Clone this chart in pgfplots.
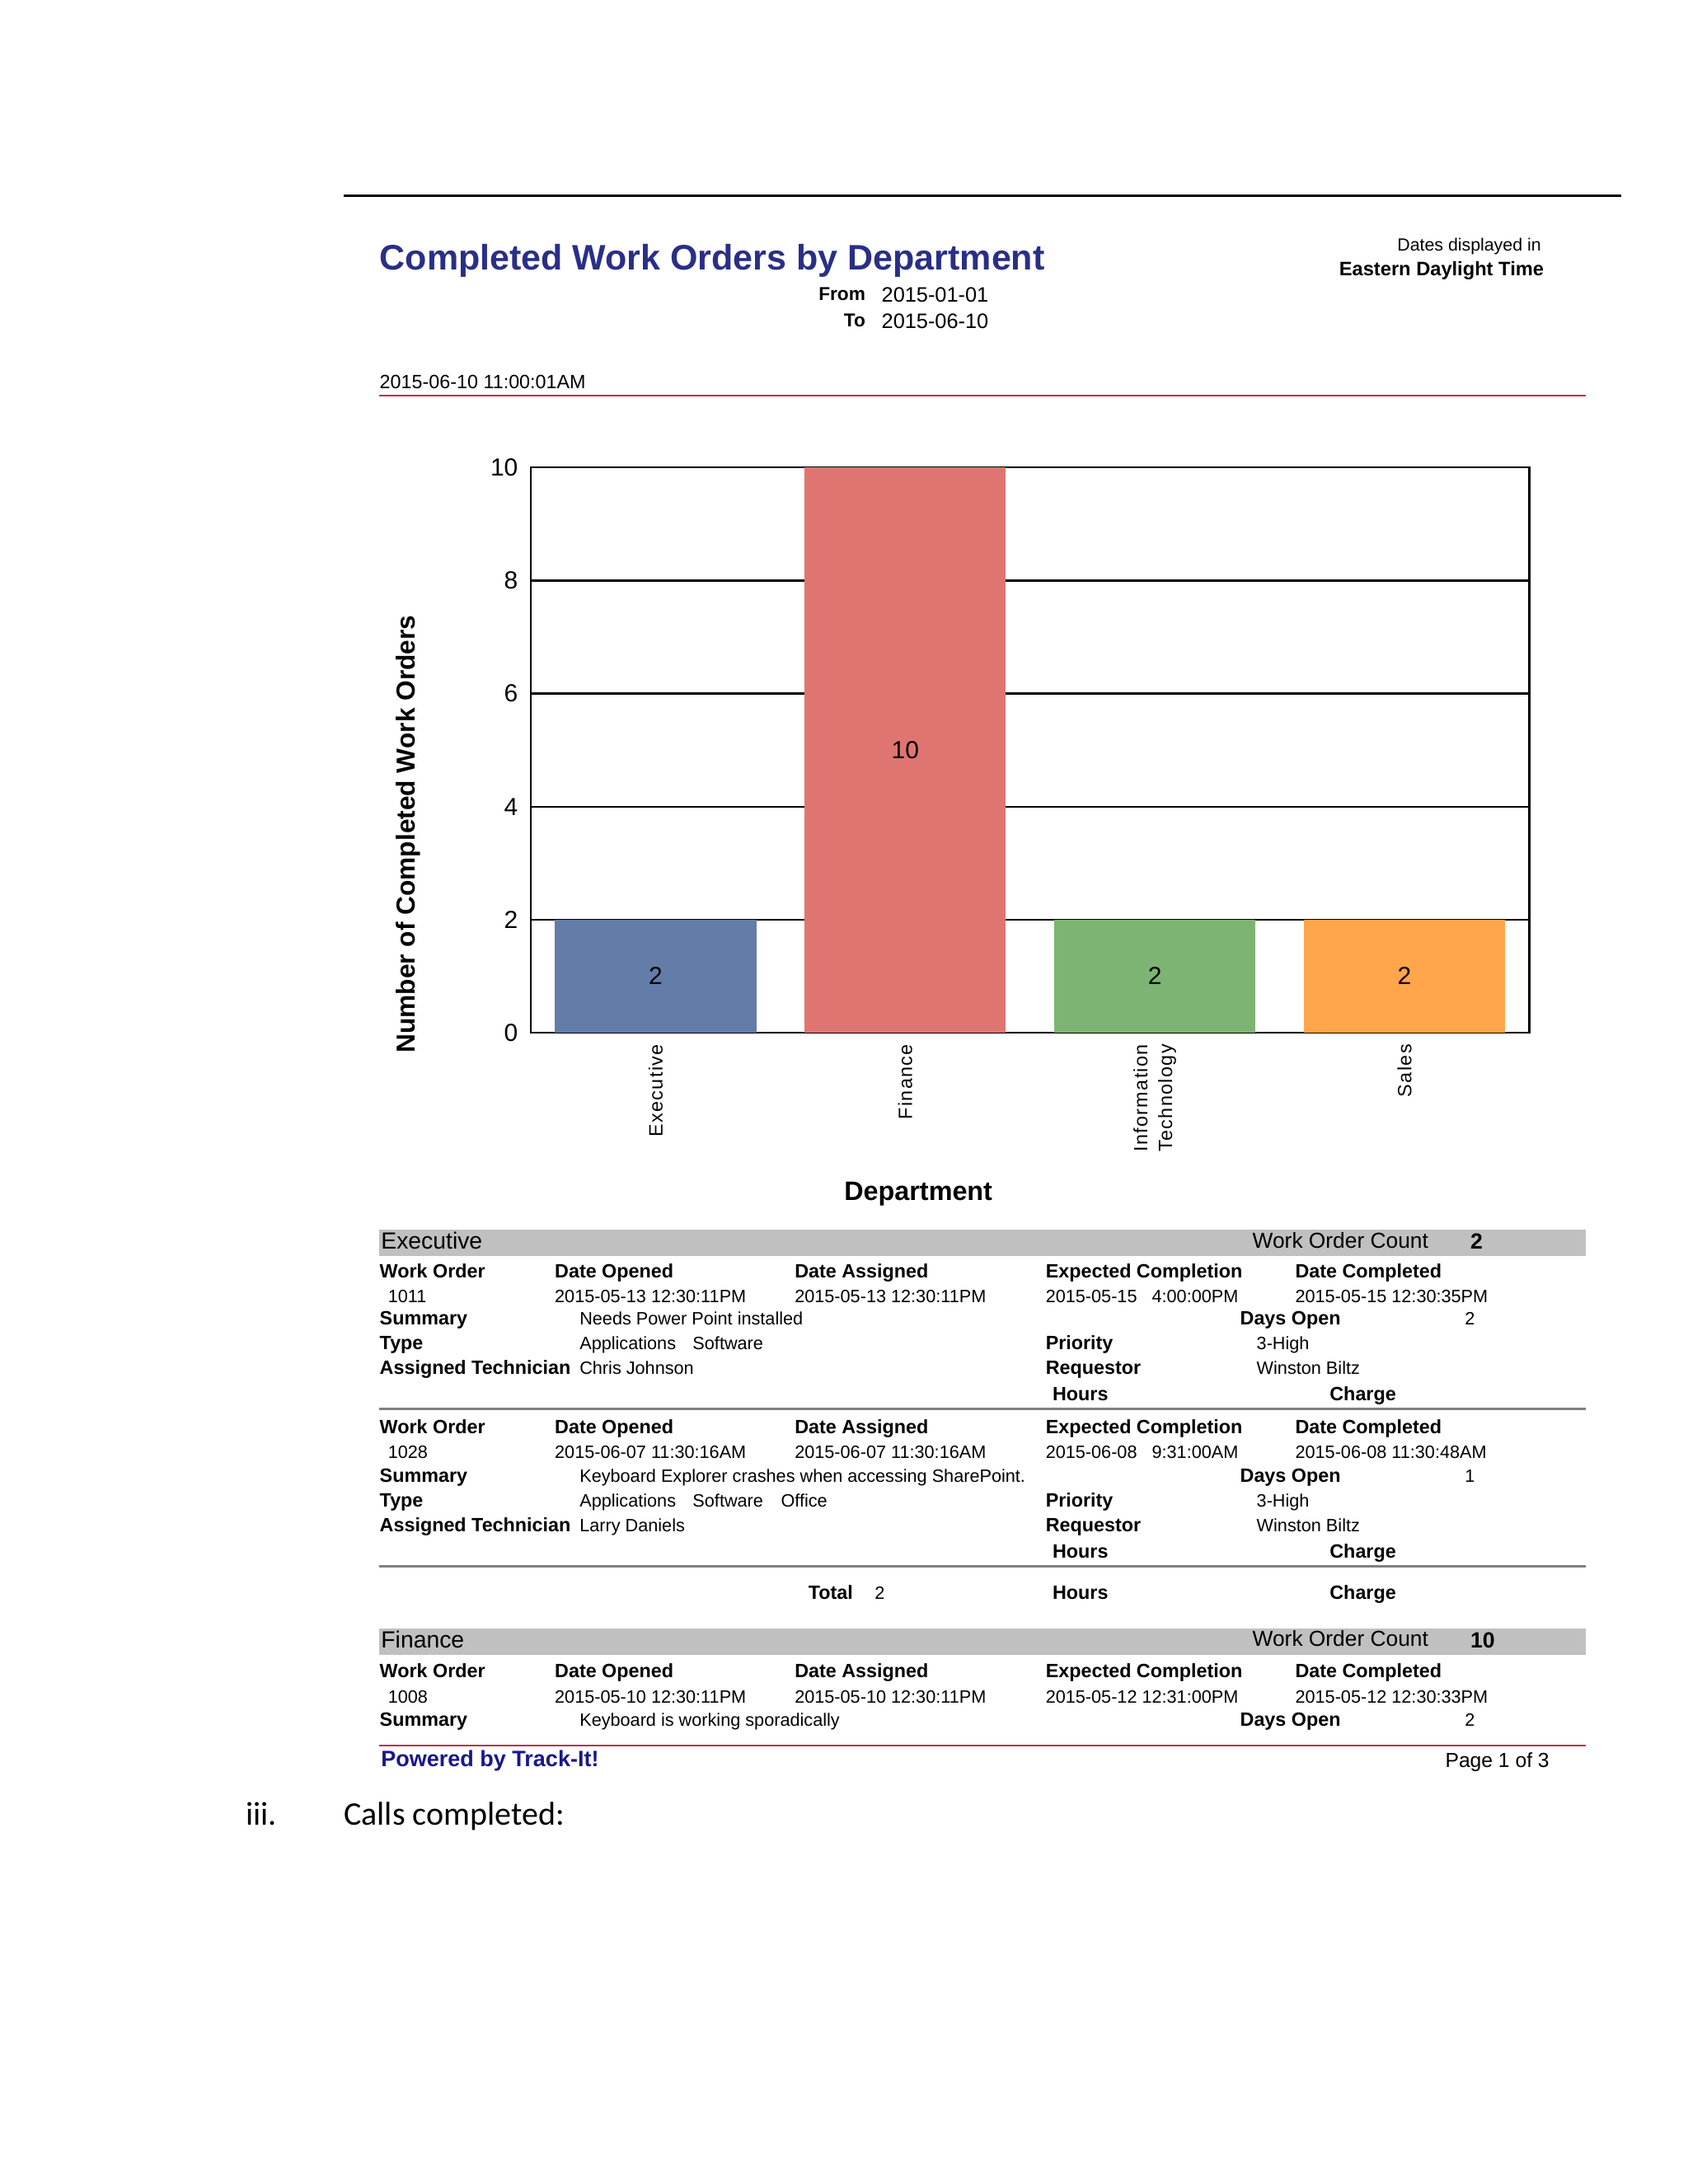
\documentclass[border=0pt]{standalone}
\usepackage{fontspec}
\setmainfont{Liberation Sans}
\newfontfamily\tickfont[LetterSpace=6]{Liberation Sans}
\newfontfamily\calibri{Carlito}
\usepackage{pgfplots}
\pgfplotsset{compat=1.18}

\definecolor{navytitle}{RGB}{42,47,134}
\definecolor{linkblue}{RGB}{24,24,140}
\definecolor{rulered}{RGB}{200,40,80}
\definecolor{bandgray}{RGB}{192,192,192}
\definecolor{sepgray}{RGB}{128,128,128}
\definecolor{barblue}{RGB}{100,124,168}
\definecolor{barred}{RGB}{223,117,112}
\definecolor{bargreen}{RGB}{125,180,115}
\definecolor{barorange}{RGB}{255,165,74}

\newcommand\fs[1]{\fontsize{#1}{#1}\selectfont}
% report text, positions in screen pixels of the page (1 px = 0.5bp)
\newcommand\Lb[3]{\node[t,font=\bfseries\fs{7}] at (#1,#2) {#3};}
\newcommand\Vl[3]{\node[t,font=\fs{6.5}] at (#1,#2) {#3};}
\newcommand\headrow[1]{\Lb{275}{#1}{Work Order}\Lb{402}{#1}{Date Opened}\Lb{576}{#1}{Date Assigned}\Lb{758}{#1}{Expected Completion}\Lb{939}{#1}{Date Completed}}
\newcommand\daterow[6]{\Vl{281}{#1}{#2}\Vl{402}{#1}{#3}\Vl{576}{#1}{#4}\Vl{758}{#1}{#5}\Vl{939}{#1}{#6}}

\begin{document}
\begin{tikzpicture}
\path[fill=white,use as bounding box] (0,0) rectangle (612bp,-792bp);

\begin{axis}[
  at={(192.5bp,-374.5bp)}, anchor=south west,
  scale only axis, width=362bp, height=205bp,
  ybar, bar width=73bp,
  xmin=-0.5, xmax=3.5, ymin=0, ymax=10,
  xtick={0,1,2,3},
  xticklabels={Executive,Finance,{Information\\Technology},Sales},
  ytick={0,2,4,6,8,10},
  major tick length=0pt,
  ymajorgrids,
  grid style={black, line width=0.7bp},
  axis line style={black, line width=0.7bp},
  /pgf/number format/assume math mode=true,
  yticklabel style={font=\fs{9}, inner sep=0pt, xshift=-4.5bp},
  xticklabel style={yshift=-4bp, font=\tickfont\fontsize{7}{9}\selectfont, rotate=90, anchor=east,
    align=right, inner sep=0pt},
  visualization depends on={rawy \as \rawy},
  nodes near coords,
  every node near coord/.append style={font=\fs{9}, anchor=center, yshift=-\rawy*10.25bp},
]
\addplot[fill=barblue, draw=none, bar shift=0pt] coordinates {(0,2)};
\addplot[fill=barred, draw=none, bar shift=0pt] coordinates {(1,10)};
\addplot[fill=bargreen, draw=none, bar shift=0pt] coordinates {(2,2)};
\addplot[fill=barorange, draw=none, bar shift=0pt] coordinates {(3,2)};
\end{axis}

\begin{scope}[x=0.5bp, y=-0.5bp, t/.style={inner sep=0pt, anchor=base west}, tr/.style={inner sep=0pt, anchor=base east}]
% header
\draw[black, line width=0.8bp] (249,142) -- (1176,142);
\node[t, font=\bfseries\fs{12.9}, text=navytitle] at (275,196) {Completed Work Orders by Department};
\node[tr, font=\fs{6.4}] at (1118,182) {Dates displayed in};
\node[tr, font=\bfseries\fs{7.1}] at (1120,200) {Eastern Daylight Time};
\node[tr, font=\bfseries\fs{6.8}] at (628,218) {From};
\node[t, font=\fs{7.6}] at (639,219) {2015-01-01};
\node[tr, font=\bfseries\fs{6.8}] at (628,237) {To};
\node[t, font=\fs{7.6}] at (639,238) {2015-06-10};
\node[t, font=\fs{7}] at (275,282) {2015-06-10 11:00:01AM};
\draw[rulered, line width=0.8bp] (275,287) -- (1150,287);

% chart titles
\node[rotate=90, font=\bfseries\fs{9.5}, inner sep=0pt] at (296,605) {Number of Completed Work Orders};
\node[font=\bfseries\fs{9.7}, inner sep=0pt] at (666,866) {Department};

% Executive group
\fill[bandgray] (275,892) rectangle (1150,911);
\node[t, font=\fs{8.5}] at (276,906) {Executive};
\node[t, font=\fs{7.9}] at (908,905) {Work Order Count};
\node[t, font=\bfseries\fs{8}] at (1066,906) {2};

\headrow{927}
\daterow{945}{1011}{2015-05-13 12:30:11PM}{2015-05-13 12:30:11PM}{2015-05-15 \phantom{1}4:00:00PM}{2015-05-15 12:30:35PM}
\Lb{275}{961}{Summary}\Vl{420}{961}{Needs Power Point installed}\Lb{899}{961}{Days Open}\Vl{1062}{961}{2}
\Lb{275}{979}{Type}\Vl{420}{979}{Applications}\Vl{502}{979}{Software}\Lb{758}{979}{Priority}\Vl{911}{979}{3-High}
\Lb{275}{997}{Assigned Technician}\Vl{420}{997}{Chris Johnson}\Lb{758}{997}{Requestor}\Vl{911}{997}{Winston Biltz}
\Lb{763}{1016}{Hours}\Lb{964}{1016}{Charge}
\draw[sepgray, line width=0.8bp] (275,1022) -- (1150,1022);

\headrow{1040}
\daterow{1058}{1028}{2015-06-07 11:30:16AM}{2015-06-07 11:30:16AM}{2015-06-08 \phantom{1}9:31:00AM}{2015-06-08 11:30:48AM}
\Lb{275}{1075}{Summary}\Vl{420}{1075}{Keyboard Explorer crashes when accessing SharePoint.}\Lb{899}{1075}{Days Open}\Vl{1062}{1075}{1}
\Lb{275}{1093}{Type}\Vl{420}{1093}{Applications}\Vl{502}{1093}{Software}\Vl{566}{1093}{Office}\Lb{758}{1093}{Priority}\Vl{911}{1093}{3-High}
\Lb{275}{1111}{Assigned Technician}\Vl{420}{1111}{Larry Daniels}\Lb{758}{1111}{Requestor}\Vl{911}{1111}{Winston Biltz}
\Lb{763}{1130}{Hours}\Lb{964}{1130}{Charge}
\draw[sepgray, line width=0.8bp] (275,1136) -- (1150,1136);

\node[tr, font=\bfseries\fs{7}] at (619,1160) {Total};
\Vl{634}{1160}{2}
\Lb{763}{1160}{Hours}\Lb{964}{1160}{Charge}

% Finance group
\fill[bandgray] (275,1181) rectangle (1150,1200);
\node[t, font=\fs{8.5}] at (276,1195) {Finance};
\node[t, font=\fs{7.9}] at (908,1194) {Work Order Count};
\node[t, font=\bfseries\fs{8}] at (1066,1195) {10};

\headrow{1217}
\daterow{1235}{1008}{2015-05-10 12:30:11PM}{2015-05-10 12:30:11PM}{2015-05-12 12:31:00PM}{2015-05-12 12:30:33PM}
\Lb{275}{1252}{Summary}\Vl{420}{1252}{Keyboard is working sporadically}\Lb{899}{1252}{Days Open}\Vl{1062}{1252}{2}

% footer
\draw[rulered, line width=0.8bp] (275,1266) -- (1150,1266);
\node[t, font=\bfseries\fs{8.1}, text=linkblue] at (276,1281) {Powered by Track-It!};
\node[tr, font=\fs{7.4}] at (1124,1282) {Page 1 of 3};

\node[t, font=\calibri\fs{12}] at (178,1324) {iii.};
\node[t, font=\calibri\fs{12}] at (249,1324) {Calls completed:};
\end{scope}
\end{tikzpicture}
\end{document}
